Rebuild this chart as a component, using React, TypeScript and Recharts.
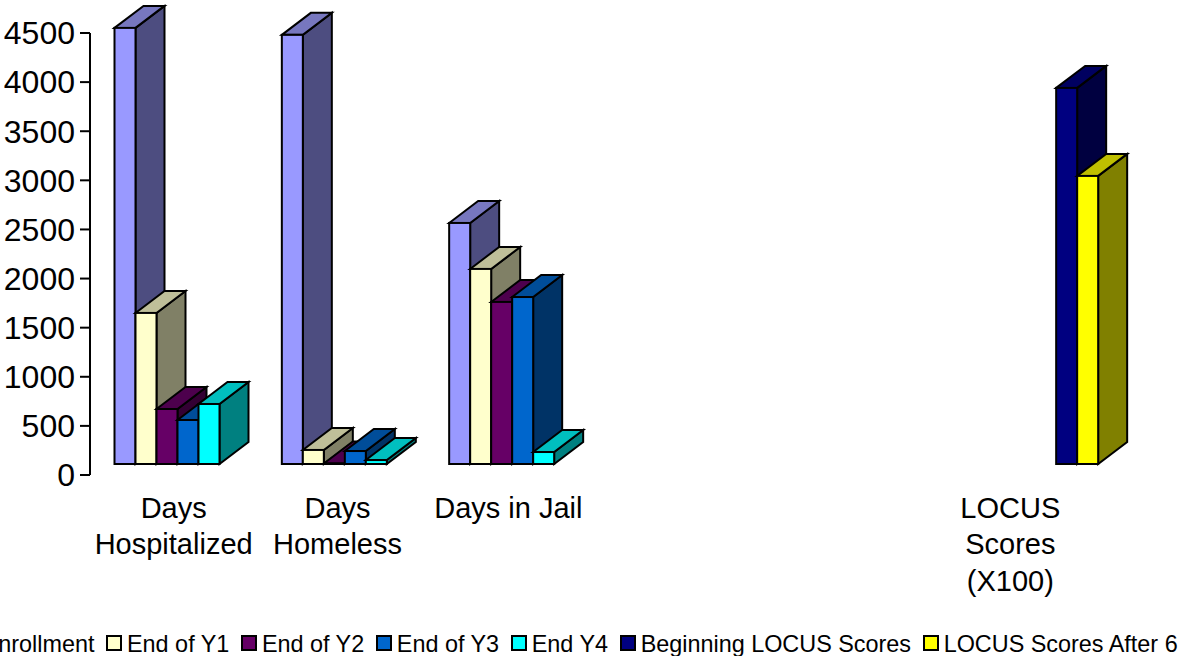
// App.tsx
import { BarChart, Bar, XAxis, YAxis, Legend } from 'recharts';

const categories = ['Days\nHospitalized', 'Days\nHomeless', 'Days in Jail', ' ', '  ', 'LOCUS\nScores\n(X100)'];
const enrollment = [4440, 4369, 2454, null, null, null];
const endY1 = [1538, 143, 1986, null, null, null];
const endY2 = [560, 5, 1650, null, null, null];
const endY3 = [448, 132, 1700, null, null, null];
const endY4 = [611, 40, 122, null, null, null];
const beginningLocus = [null, null, null, null, null, 3829];
const locusAfter = [null, null, null, null, null, 2933];
const yTicks = [0, 500, 1000, 1500, 2000, 2500, 3000, 3500, 4000, 4500];

const series = [
  { key: 'At Enrollment', values: enrollment, front: '#9999ff', top: '#7777bf', side: '#4d4d80' },
  { key: 'End of Y1', values: endY1, front: '#ffffcc', top: '#bfbf99', side: '#808066' },
  { key: 'End of Y2', values: endY2, front: '#660066', top: '#4d004d', side: '#330033' },
  { key: 'End of Y3', values: endY3, front: '#0066cc', top: '#004d99', side: '#003366' },
  { key: 'End Y4', values: endY4, front: '#00ffff', top: '#00bfbf', side: '#008080' },
  { key: 'Beginning LOCUS Scores', values: beginningLocus, front: '#000080', top: '#000060', side: '#000040' },
  { key: 'LOCUS Scores After 6 Months', values: locusAfter, front: '#ffff00', top: '#bfbf00', side: '#808000' },
];

const data = categories.map((name, i) => {
  const row: any = { name };
  series.forEach((s) => (row[s.key] = s.values[i]));
  return row;
});

// front face sits shifted from the axis plane, depth goes up and right
const SHIFT_X = 14.5;
const SHIFT_Y = -11;
const DEPTH_X = 29;
const DEPTH_Y = -22;

function Bar3D(props: any) {
  const { x, y, width, height, front, top, side, value } = props;
  if (value == null || !(height > 0)) return null;
  const l = x + SHIFT_X;
  const r = l + width;
  const t = y + SHIFT_Y;
  const b = t + height;
  return (
    <g stroke="#000" strokeWidth={2} strokeLinejoin="miter">
      <polygon points={`${r},${t} ${r + DEPTH_X},${t + DEPTH_Y} ${r + DEPTH_X},${b + DEPTH_Y} ${r},${b}`} fill={side} />
      <polygon points={`${l},${t} ${l + DEPTH_X},${t + DEPTH_Y} ${r + DEPTH_X},${t + DEPTH_Y} ${r},${t}`} fill={top} />
      <rect x={l} y={t} width={width} height={height} fill={front} />
    </g>
  );
}

function CategoryTick(props: any) {
  const { x, y, payload } = props;
  const lines = String(payload.value).trim().split('\n');
  const nudge = payload.value === 'Days\nHomeless' ? -3.5 : 0;
  return (
    <text x={x + nudge} y={y} textAnchor="middle" fontSize={29} fill="#000" fontFamily="Liberation Sans">
      {lines.map((line, i) => (
        <tspan key={i} x={x + nudge} dy={i === 0 ? 34.5 : 36.5}>
          {line}
        </tspan>
      ))}
    </text>
  );
}

function LegendRow() {
  return (
    <div style={{ display: 'flex', whiteSpace: 'nowrap', fontFamily: 'Liberation Sans', fontSize: 23.4, lineHeight: '26px', height: 26, color: '#000' }}>
      {series.map((s) => (
        <div key={s.key} style={{ display: 'flex', marginRight: 11.6 }}>
          <span style={{ width: 12, height: 12, marginTop: 4, border: '2px solid #000', background: s.front, marginRight: 5, display: 'inline-block' }} />
          {s.key}
        </div>
      ))}
    </div>
  );
}

export default function App() {
  return (
    <div style={{ position: 'absolute', left: 0, top: 0, width: 1180, height: 656, overflow: 'hidden', background: '#fff' }}>
      <BarChart
        width={1180}
        height={656}
        data={data}
        barGap={0}
        barCategoryGap={10}
        margin={{ top: 33, right: 86, bottom: 25, left: 0 }}
      >
        <XAxis dataKey="name" axisLine={false} tickLine={false} interval={0} height={130} tick={<CategoryTick />} />
        <YAxis
          domain={[0, 4500]}
          ticks={yTicks}
          width={90}
          interval={0}
          tickSize={10}
          tickMargin={5}
          axisLine={{ stroke: '#000', strokeWidth: 2 }}
          tickLine={{ stroke: '#000', strokeWidth: 2 }}
          tick={{ fontSize: 32, fill: '#000', fontFamily: 'Liberation Sans' }}
        />
        <Legend
          content={<LegendRow />}
          wrapperStyle={{ left: -67, top: 631, bottom: 'auto', width: 1500 }}
        />
        {series.map((s) => (
          <Bar
            key={s.key}
            dataKey={s.key}
            isAnimationActive={false}
            shape={(p: any) => <Bar3D {...p} front={s.front} top={s.top} side={s.side} />}
          />
        ))}
      </BarChart>
    </div>
  );
}
